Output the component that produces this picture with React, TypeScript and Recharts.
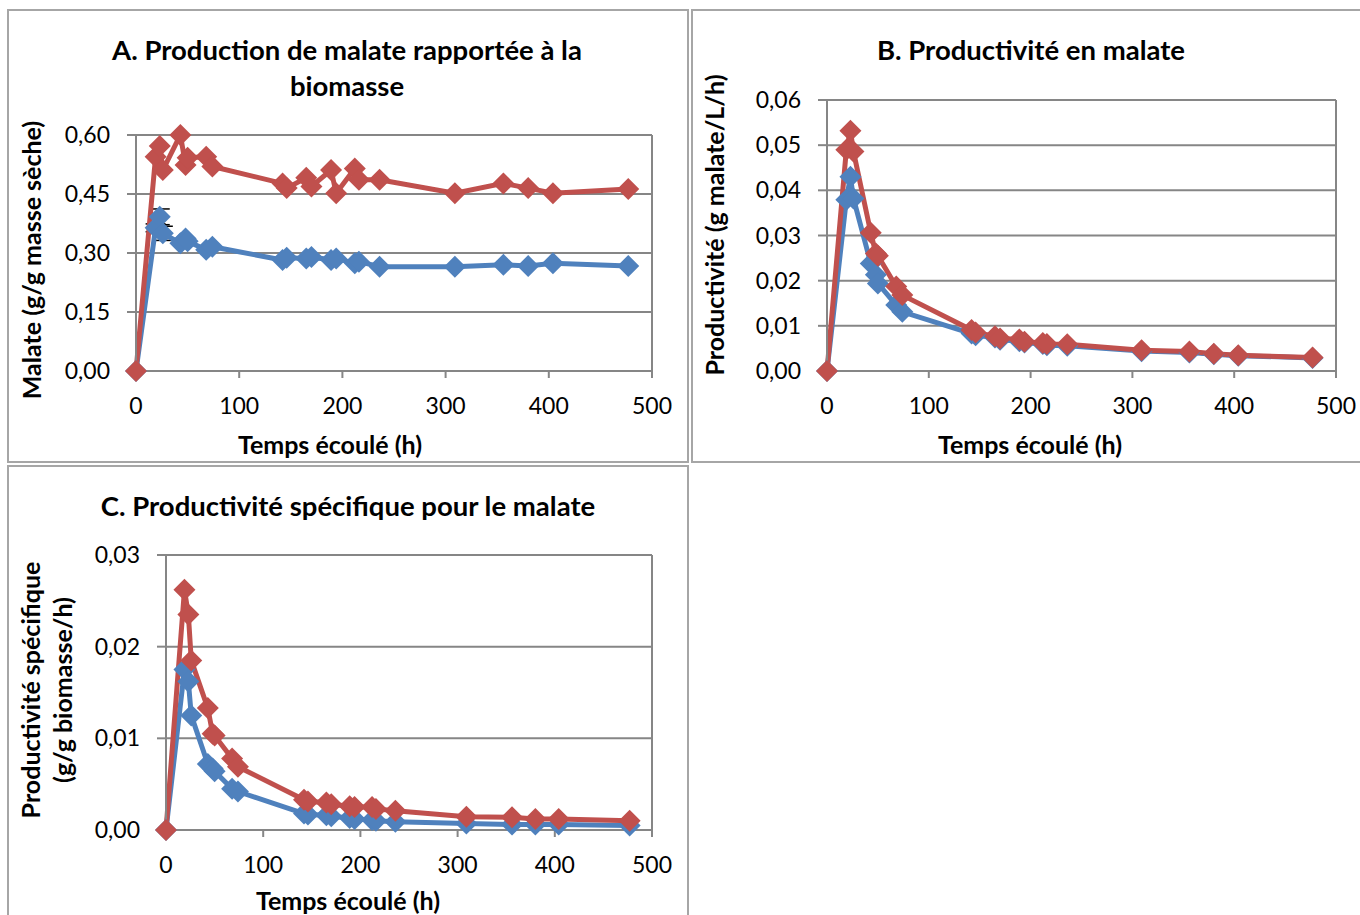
import { CartesianGrid, ErrorBar, Line, LineChart, ReferenceLine, XAxis, YAxis } from 'recharts';

// sampling times (h)
const times = [0, 19, 23, 26, 43, 48, 50, 68, 74, 142, 146, 165, 170, 189, 194, 212, 216, 236, 309, 356, 380, 404, 477];

// A. malate / biomass (g/g)
const massRed = [0, 0.545, 0.572, 0.511, 0.6, 0.524, 0.542, 0.545, 0.52, 0.477, 0.465, 0.491, 0.469, 0.511, 0.452, 0.515, 0.486, 0.486, 0.452, 0.477, 0.465, 0.452, 0.463];
const massBlue = [0, 0.364, 0.392, 0.35, 0.325, 0.337, 0.33, 0.308, 0.316, 0.282, 0.288, 0.286, 0.29, 0.282, 0.286, 0.274, 0.278, 0.265, 0.265, 0.27, 0.267, 0.274, 0.267];
const massBlueErr = [0, 0.01, 0.02, 0.018, 0, 0, 0, 0, 0, 0, 0, 0, 0, 0, 0, 0, 0, 0, 0, 0, 0, 0, 0];

// B. productivity (g malate/L/h)
const prodRed = [0, 0.049, 0.0532, 0.0486, 0.0306, 0.026, 0.0255, 0.0187, 0.0168, 0.0091, 0.0085, 0.0077, 0.0072, 0.007, 0.0065, 0.0062, 0.006, 0.0059, 0.0046, 0.0043, 0.0038, 0.0035, 0.003];
const prodBlue = [0, 0.0379, 0.043, 0.0382, 0.0238, 0.0213, 0.0194, 0.0146, 0.0131, 0.0083, 0.0079, 0.0074, 0.0069, 0.0066, 0.0063, 0.006, 0.0057, 0.0056, 0.0044, 0.0041, 0.0037, 0.0034, 0.0029];

// C. specific productivity (g/g biomass/h)
const specRed = [0, 0.0262, 0.0235, 0.0185, 0.0133, 0.0105, 0.0103, 0.0078, 0.0069, 0.0033, 0.0031, 0.003, 0.0028, 0.0026, 0.0025, 0.0025, 0.0023, 0.0021, 0.00145, 0.0014, 0.0012, 0.0012, 0.001];
const specBlue = [0, 0.0175, 0.0162, 0.0125, 0.0072, 0.0067, 0.0064, 0.0045, 0.0042, 0.0018, 0.0017, 0.0016, 0.0015, 0.0013, 0.0012, 0.0011, 0.001, 0.0009, 0.0007, 0.0006, 0.0006, 0.0006, 0.0005];

const xTicks = [0, 100, 200, 300, 400, 500];
const massTicks = [0, 0.15, 0.3, 0.45, 0.6];
const prodTicks = [0, 0.01, 0.02, 0.03, 0.04, 0.05, 0.06];
const specTicks = [0, 0.01, 0.02, 0.03];

const RED = '#C0504D';
const BLUE = '#4F81BD';
const GRID = '#868686';
const FONT = 'Lato, "Open Sans", sans-serif';

const diamond = (color: string) => (p: any) =>
  p.cx == null ? null : (
    <polygon key={`d${p.index}`} fill={color}
      points={`${p.cx},${p.cy - 11} ${p.cx + 11},${p.cy} ${p.cx},${p.cy + 11} ${p.cx - 11},${p.cy}`} />
  );

const fmt2 = (v: number) => v.toFixed(2).replace('.', ',');

type PanelProps = {
  left: number; top: number; width: number; height: number;
  margin: { top: number; right: number; bottom: number; left: number };
  red: number[]; blue: number[]; blueErr?: number[];
  yMax: number; yTicks: number[];
};

function Panel({ left, top, width, height, margin, red, blue, blueErr, yMax, yTicks }: PanelProps) {
  const data = times.map((t, i) => ({ t, red: red[i], blue: blue[i], err: blueErr ? blueErr[i] : 0 }));
  return (
    <div style={{ position: 'absolute', left, top }}>
      <LineChart width={width} height={height} data={data} margin={margin}>
        <CartesianGrid vertical={false} stroke={GRID} strokeWidth={2} />
        <XAxis dataKey="t" type="number" domain={[0, 500]} ticks={xTicks} height={30}
          axisLine={{ stroke: GRID, strokeWidth: 2 }} tickLine={{ stroke: GRID, strokeWidth: 2 }}
          tickSize={7} tickMargin={20} tick={{ fontSize: 23, fill: '#000', fontFamily: FONT }} />
        <YAxis type="number" domain={[0, yMax]} ticks={yTicks} width={60} tickFormatter={fmt2}
          axisLine={{ stroke: GRID, strokeWidth: 2 }} tickLine={{ stroke: GRID, strokeWidth: 2 }}
          tickSize={9} tickMargin={17} tick={{ fontSize: 23, fill: '#000', fontFamily: FONT }} />
        <ReferenceLine x={500} stroke={GRID} strokeWidth={2} />
        <Line dataKey="blue" stroke={BLUE} strokeWidth={5} dot={diamond(BLUE)} isAnimationActive={false}>
          {blueErr && <ErrorBar dataKey="err" direction="y" width={10} stroke="#000" strokeWidth={1.5} />}
        </Line>
        <Line dataKey="red" stroke={RED} strokeWidth={5} dot={diamond(RED)} isAnimationActive={false} />
      </LineChart>
    </div>
  );
}

const frame = (left: number, top: number, width: number, height: number): React.CSSProperties => ({
  position: 'absolute', left, top, width, height, border: '2px solid #A6A6A6', boxSizing: 'border-box',
});

const bold: React.CSSProperties = { position: 'absolute', fontWeight: 700, color: '#000', whiteSpace: 'nowrap' };

function VLabel({ x, y, text, size = 25 }: { x: number; y: number; text: string; size?: number }) {
  return (
    <div style={{ ...bold, left: x, top: y, fontSize: size, transform: 'translate(-50%, -50%) rotate(-90deg)' }}>{text}</div>
  );
}

function HLabel({ x, y, text, size = 25 }: { x: number; y: number; text: string; size?: number }) {
  return (
    <div style={{ ...bold, left: x, top: y, fontSize: size, transform: 'translate(-50%, -50%)' }}>{text}</div>
  );
}

export default function App() {
  return (
    <div style={{ position: 'relative', width: 1360, height: 915, overflow: 'hidden', background: '#fff', fontFamily: FONT }}>
      <style>{'body{margin:0}'}</style>
      <div style={frame(7, 9, 682, 454)} />
      <div style={frame(691, 9, 720, 454)} />
      <div style={frame(7, 465, 682, 500)} />

      <Panel left={0} top={0} width={688} height={462} margin={{ top: 135, right: 36, bottom: 61, left: 76 }}
        red={massRed} blue={massBlue} blueErr={massBlueErr} yMax={0.6} yTicks={massTicks} />
      <Panel left={692} top={0} width={668} height={462} margin={{ top: 100, right: 24, bottom: 61, left: 75 }}
        red={prodRed} blue={prodBlue} yMax={0.06} yTicks={prodTicks} />
      <Panel left={0} top={465} width={688} height={450} margin={{ top: 90, right: 36, bottom: 55, left: 106 }}
        red={specRed} blue={specBlue} yMax={0.03} yTicks={specTicks} />

      <HLabel x={347} y={49} text="A. Production de malate rapportée à la" size={27.5} />
      <HLabel x={347} y={85} text="biomasse" size={27.5} />
      <HLabel x={1031} y={49} text="B. Productivité en malate" size={27.5} />
      <HLabel x={348} y={505} text="C. Productivité spécifique pour le malate" size={27.5} />

      <HLabel x={330} y={444} text="Temps écoulé (h)" />
      <HLabel x={1030} y={444} text="Temps écoulé (h)" />
      <HLabel x={348} y={900} text="Temps écoulé (h)" />

      <VLabel x={31} y={260} text="Malate (g/g masse sèche)" />
      <VLabel x={714} y={225} text="Productivité (g malate/L/h)" />
      <VLabel x={30} y={690} text="Productivité spécifique" />
      <VLabel x={62} y={690} text="(g/g biomasse/h)" />
    </div>
  );
}
